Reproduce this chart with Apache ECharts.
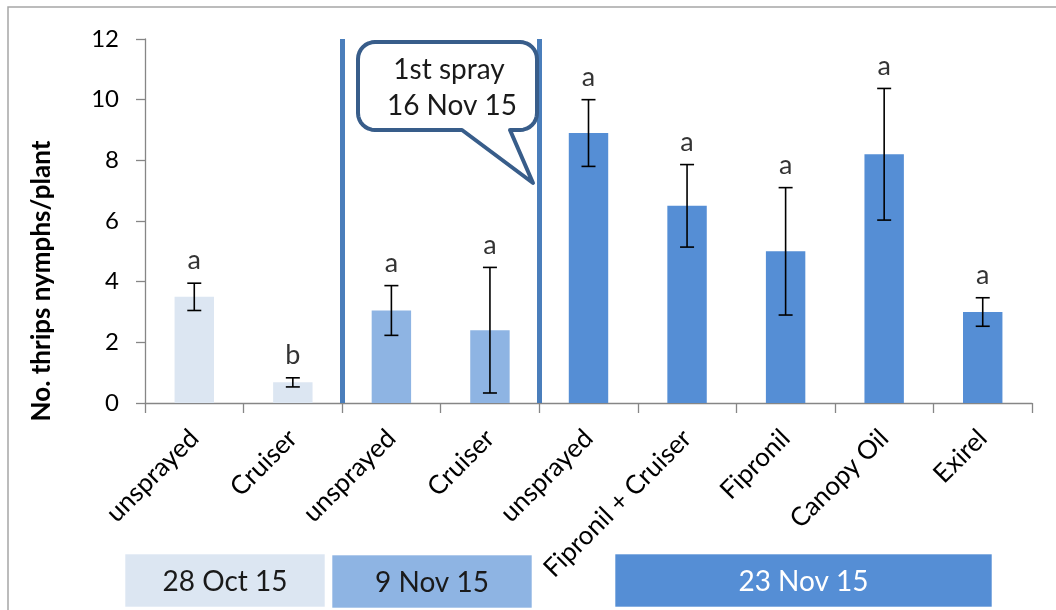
<!DOCTYPE html>
<html><head><meta charset="utf-8">
<script src="https://cdn.jsdelivr.net/npm/echarts@6/dist/echarts.min.js"></script>
<style>html,body{margin:0;padding:0;background:#fff}#c{width:1056px;height:610px}</style>
</head><body><div id="c"></div>
<script>
// ---- data ----
const categories = ['unsprayed', 'Cruiser', 'unsprayed', 'Cruiser', 'unsprayed', 'Fipronil + Cruiser', 'Fipronil', 'Canopy Oil', 'Exirel'];
const means = [3.5, 0.68, 3.05, 2.4, 8.9, 6.5, 5.0, 8.2, 3.0];
const errors = [0.45, 0.15, 0.82, 2.07, 1.1, 1.36, 2.1, 2.17, 0.47];
const letters = ['a', 'b', 'a', 'a', 'a', 'a', 'a', 'a', 'a'];
const groupOf = [0, 0, 1, 1, 2, 2, 2, 2, 2];
const groupLabels = ['28 Oct 15', '9 Nov 15', '23 Nov 15'];
const dividerPositions = [2, 4];
const yMin = 0, yMax = 12, yInterval = 2;
const yAxisTitle = 'No. thrips nymphs/plant';
const calloutLines = ['1st spray', '16 Nov 15'];

// ---- styles ----
const FONT = 'Lato, "Open Sans", sans-serif';
const groupColors = ['#DCE6F2', '#8EB4E3', '#558ED5'];
const groupTextColors = ['#1a1a1a', '#1a1a1a', '#ffffff'];

const chart = echarts.init(document.getElementById('c'), null, {renderer: 'canvas'});

// callout outline: rounded rectangle with a tail
function arcPts(cx, cy, r, a0, a1) {
  const pts = [];
  for (let k = 0; k <= 8; k++) {
    const a = a0 + (a1 - a0) * k / 8;
    pts.push([cx + r * Math.cos(a), cy + r * Math.sin(a)]);
  }
  return pts;
}
const bx0 = 358, bx1 = 537, by0 = 42, by1 = 130, br = 17;
const calloutPts = [].concat(
  arcPts(bx0 + br, by0 + br, br, Math.PI, 1.5 * Math.PI),
  arcPts(bx1 - br, by0 + br, br, 1.5 * Math.PI, 2 * Math.PI),
  arcPts(bx1 - br, by1 - br, br, 0, 0.5 * Math.PI),
  [[510, by1], [533, 183], [462, by1]],
  arcPts(bx0 + br, by1 - br, br, 0.5 * Math.PI, Math.PI)
);

const groupBoxes = [
  {x: 125, y: 554, w: 200, h: 53},
  {x: 332, y: 555, w: 200, h: 53},
  {x: 615, y: 554, w: 377, h: 53}
];

const graphics = [
  {type: 'rect', z: -1, shape: {x: 8, y: 7, width: 1200, height: 800}, style: {fill: 'none', stroke: '#a6a6a6', lineWidth: 1.5}},
  {type: 'text', x: 42, y: 281, rotation: Math.PI / 2, style: {text: yAxisTitle, font: 'bold 26px ' + FONT, fill: '#000', align: 'center', verticalAlign: 'middle'}},
  {type: 'polygon', shape: {points: calloutPts}, style: {fill: '#fff', stroke: '#385D8A', lineWidth: 4, lineJoin: 'round'}, z: 10},
  {type: 'text', x: 449, y: 70, z: 11, style: {text: calloutLines[0], font: '28px ' + FONT, fill: '#1a1a1a', align: 'center', verticalAlign: 'middle'}},
  {type: 'text', x: 452, y: 106, z: 11, style: {text: calloutLines[1], font: '28px ' + FONT, fill: '#1a1a1a', align: 'center', verticalAlign: 'middle'}}
];
groupLabels.forEach((g, i) => {
  const b = groupBoxes[i];
  graphics.push({type: 'rect', shape: {x: b.x, y: b.y, width: b.w, height: b.h}, style: {fill: groupColors[i], stroke: 'rgba(255,255,255,0.6)', lineWidth: 1}});
  graphics.push({type: 'text', x: b.x + b.w / 2, y: b.y + b.h / 2 + 1, style: {text: g, font: '28px ' + FONT, fill: groupTextColors[i], align: 'center', verticalAlign: 'middle'}});
});

const option = {
  animation: false,
  backgroundColor: '#fff',
  grid: {left: 145, right: 24, top: 39, bottom: 207, containLabel: false},
  xAxis: [
    {
      type: 'category', data: categories,
      axisLine: {lineStyle: {color: '#868686', width: 1.3}},
      axisTick: {show: true, length: 10, lineStyle: {color: '#868686', width: 1.3}},
      axisLabel: {rotate: 45, margin: 31, color: '#000', fontSize: 26, fontFamily: FONT, interval: 0}
    },
    {type: 'value', min: 0, max: categories.length, show: false}
  ],
  yAxis: {
    type: 'value', min: yMin, max: yMax, interval: yInterval,
    axisLine: {show: true, lineStyle: {color: '#868686', width: 1.3}},
    axisTick: {show: true, length: 9, lineStyle: {color: '#868686', width: 1.3}},
    axisLabel: {margin: 26, color: '#000', fontSize: 24, fontFamily: FONT},
    splitLine: {show: false}
  },
  series: [
    {
      type: 'bar', barWidth: '40%',
      data: means.map((m, i) => ({value: m, itemStyle: {color: groupColors[groupOf[i]]}}))
    },
    {
      type: 'custom', z: 5,
      data: means.map((m, i) => [i, m - errors[i], m + errors[i]]),
      renderItem: function (params, api) {
        const lo = api.coord([api.value(0), api.value(1)]);
        const hi = api.coord([api.value(0), api.value(2)]);
        const cap = 7;
        const st = {stroke: '#000', lineWidth: 1.6};
        return {type: 'group', children: [
          {type: 'line', shape: {x1: hi[0], y1: hi[1], x2: lo[0], y2: lo[1]}, style: st},
          {type: 'line', shape: {x1: hi[0] - cap, y1: hi[1], x2: hi[0] + cap, y2: hi[1]}, style: st},
          {type: 'line', shape: {x1: lo[0] - cap, y1: lo[1], x2: lo[0] + cap, y2: lo[1]}, style: st}
        ]};
      }
    },
    {
      type: 'scatter', symbolSize: 0, z: 6,
      data: means.map((m, i) => [i, m + errors[i]]),
      label: {show: true, position: 'top', distance: 9, formatter: p => letters[p.dataIndex], color: '#000', fontSize: 27, fontFamily: FONT}
    },
    {
      type: 'line', xAxisIndex: 1, data: [], symbol: 'none',
      markLine: {
        silent: true, symbol: 'none', label: {show: false},
        lineStyle: {color: '#4A7EBB', width: 5, type: 'solid'},
        data: dividerPositions.map(p => ({xAxis: p}))
      }
    }
  ],
  graphic: graphics
};
chart.setOption(option);
</script>
</body></html>
